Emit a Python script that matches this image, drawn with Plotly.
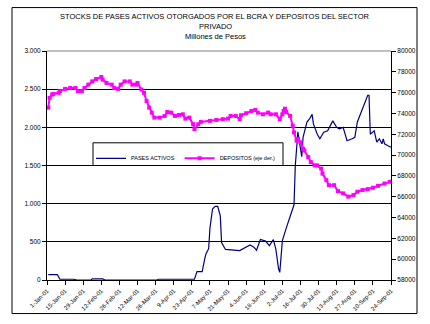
import plotly.graph_objects as go

# ---------------- data ----------------
pases_fechas = [
    "2001-01-02", "2001-01-09", "2001-01-11", "2001-01-22", "2001-01-24", "2001-02-04",
    "2001-02-05", "2001-02-13", "2001-02-15", "2001-03-27", "2001-03-28", "2001-04-25",
    "2001-04-27", "2001-05-01", "2001-05-03", "2001-05-04", "2001-05-06", "2001-05-07",
    "2001-05-09", "2001-05-11", "2001-05-13", "2001-05-15", "2001-05-16", "2001-05-19",
    "2001-05-30", "2001-06-05", "2001-06-07", "2001-06-10", "2001-06-12", "2001-06-15",
    "2001-06-19", "2001-06-22", "2001-06-25", "2001-06-27", "2001-06-29", "2001-06-30",
    "2001-07-02", "2001-07-05", "2001-07-09", "2001-07-11", "2001-07-12", "2001-07-13",
    "2001-07-14", "2001-07-16", "2001-07-17", "2001-07-18", "2001-07-21", "2001-07-23",
    "2001-07-25", "2001-07-26", "2001-07-29", "2001-07-31", "2001-08-03", "2001-08-06",
    "2001-08-10", "2001-08-13", "2001-08-15", "2001-08-18", "2001-08-21", "2001-08-25",
    "2001-08-27", "2001-08-29", "2001-09-01", "2001-09-04", "2001-09-06", "2001-09-07",
    "2001-09-08", "2001-09-11", "2001-09-13", "2001-09-15", "2001-09-17", "2001-09-18",
    "2001-09-19", "2001-09-22", "2001-09-24",
]
pases_valores = [
    70, 70, 10, 10, 0, 0,
    15, 15, 0, 0, 10, 10,
    110, 110, 280, 345, 410, 680,
    930, 965, 965, 840, 490, 400,
    385, 440, 460, 430, 390, 530,
    510, 450, 530, 400, 150, 100,
    515, 680, 900, 985, 1500, 1805,
    1940, 1720, 1615, 1870, 2070, 2110,
    2170, 2045, 1910, 1850, 1935, 1955,
    2085, 2000, 1980, 2000, 1825, 1850,
    1870, 2070, 2200, 2330, 2420, 2420,
    1910, 1955, 1805, 1850, 1785, 1850,
    1785, 1755, 1740,
]

depositos_fechas = [
    "2001-01-02", "2001-01-03", "2001-01-05", "2001-01-06", "2001-01-10", "2001-01-11",
    "2001-01-15", "2001-01-19", "2001-01-23", "2001-01-25", "2001-01-28", "2001-01-30",
    "2001-02-02", "2001-02-05", "2001-02-08", "2001-02-12", "2001-02-13", "2001-02-16",
    "2001-02-20", "2001-02-22", "2001-02-25", "2001-02-27", "2001-03-02", "2001-03-06",
    "2001-03-08", "2001-03-11", "2001-03-12", "2001-03-15", "2001-03-17", "2001-03-19",
    "2001-03-21", "2001-03-23", "2001-03-25", "2001-03-29", "2001-04-02", "2001-04-04",
    "2001-04-07", "2001-04-10", "2001-04-13", "2001-04-16", "2001-04-18", "2001-04-21",
    "2001-04-24", "2001-04-25", "2001-04-28", "2001-04-30", "2001-05-07", "2001-05-12",
    "2001-05-17", "2001-05-21", "2001-05-23", "2001-05-27", "2001-05-30", "2001-05-31",
    "2001-06-04", "2001-06-08", "2001-06-11", "2001-06-13", "2001-06-17", "2001-06-21",
    "2001-06-23", "2001-06-27", "2001-06-30", "2001-07-02", "2001-07-03", "2001-07-04",
    "2001-07-05", "2001-07-08", "2001-07-10", "2001-07-11", "2001-07-13", "2001-07-14",
    "2001-07-16", "2001-07-18", "2001-07-19", "2001-07-22", "2001-07-24", "2001-07-27",
    "2001-07-29", "2001-08-01", "2001-08-02", "2001-08-05", "2001-08-07", "2001-08-11",
    "2001-08-14", "2001-08-18", "2001-08-22", "2001-08-26", "2001-08-29", "2001-09-02",
    "2001-09-06", "2001-09-10", "2001-09-14", "2001-09-19", "2001-09-23",
]
depositos_valores = [
    74560, 75500, 75820, 75880, 75980, 76140,
    76360, 76450, 76450, 76140, 76140, 76450,
    76770, 77080, 77310, 77500, 77250, 76930,
    76770, 76450, 76360, 76770, 77080, 77080,
    76770, 76770, 76930, 76300, 75980, 75190,
    74560, 74080, 73600, 73600, 73760, 74140,
    74080, 73760, 73850, 73920, 73500, 73600,
    72970, 72500, 72970, 73190, 73290, 73380,
    73450, 73510, 73760, 73760, 73450, 73830,
    74020, 74240, 74330, 74080, 73920, 74080,
    73920, 73920, 73450, 73920, 74240, 74460,
    74140, 73760, 72810, 72180, 71390, 71550,
    71230, 70600, 70440, 69810, 69330, 69010,
    69010, 68700, 68220, 67590, 67110, 67110,
    66540, 66320, 66010, 66160, 66480, 66640,
    66730, 66860, 67050, 67270, 67430,
]

x_tick_fechas = [
    "2001-01-01", "2001-01-15", "2001-01-29", "2001-02-12", "2001-02-26", "2001-03-12",
    "2001-03-26", "2001-04-09", "2001-04-23", "2001-05-07", "2001-05-21", "2001-06-04",
    "2001-06-18", "2001-07-02", "2001-07-16", "2001-07-30", "2001-08-13", "2001-08-27",
    "2001-09-10", "2001-09-24",
]
x_tick_textos = [
    "1-Jan-01", "15-Jan-01", "29-Jan-01", "12-Feb-01", "26-Feb-01", "12-Mar-01",
    "26-Mar-01", "9-Apr-01", "23-Apr-01", "7-May-01", "21-May-01", "4-Jun-01",
    "18-Jun-01", "2-Jul-01", "16-Jul-01", "30-Jul-01", "13-Aug-01", "27-Aug-01",
    "10-Sep-01", "24-Sep-01",
]
y_izq_vals = [0, 500, 1000, 1500, 2000, 2500, 3000]
y_izq_textos = ["0", "500", "1.000", "1.500", "2.000", "2.500", "3.000"]
y_der_vals = [58000, 60000, 62000, 64000, 66000, 68000, 70000, 72000, 74000, 76000, 78000, 80000]
y_der_textos = [str(v) for v in y_der_vals]

titulo_1 = "STOCKS DE PASES ACTIVOS OTORGADOS POR EL BCRA Y DEPOSITOS DEL SECTOR"
titulo_2 = "PRIVADO"
subtitulo = "Millones de Pesos"

# ---------------- figure ----------------
FONT = "Liberation Sans, Arial, sans-serif"
W, H = 430, 324
L, R, T, B = 47, 39, 51, 41
PW, PH = W - L - R, H - T - B


def px_x(p):
    return (p - L) / PW


def px_y(p):
    return (H - B - p) / PH


fig = go.Figure()
fig.add_trace(go.Scatter(
    x=pases_fechas, y=pases_valores, name="PASES ACTIVOS", mode="lines",
    line=dict(color="#000080", width=1.2), yaxis="y",
))
fig.add_trace(go.Scatter(
    x=depositos_fechas, y=depositos_valores, name="DEPOSITOS (eje der.)",
    mode="lines+markers", line=dict(color="#FF00FF", width=2),
    marker=dict(symbol="square", size=4, color="#FF00FF"), yaxis="y2",
))

fig.update_layout(
    width=W, height=H,
    margin=dict(l=L, r=R, t=T, b=B, pad=0),
    paper_bgcolor="white", plot_bgcolor="white",
    font=dict(family=FONT, size=7, color="black"),
    showlegend=True,
    legend=dict(
        orientation="h", x=px_x(91), y=px_y(145), xanchor="left", yanchor="top",
        bgcolor="rgba(0,0,0,0)", borderwidth=0, font=dict(size=5.5, family=FONT),
        itemwidth=30, tracegroupgap=0,
    ),
    xaxis=dict(
        type="date", range=["2001-01-01", "2001-09-24"],
        tickvals=x_tick_fechas, ticktext=x_tick_textos, tickangle=-45,
        tickfont=dict(size=6), ticks="outside", ticklen=4, tickcolor="black",
        showline=True, linecolor="black", linewidth=1, showgrid=False, zeroline=False,
    ),
    yaxis=dict(
        range=[0, 3000], tickvals=y_izq_vals, ticktext=y_izq_textos,
        tickfont=dict(size=6.5), ticks="outside", ticklen=4, tickcolor="black",
        showline=True, linecolor="black", linewidth=1,
        showgrid=True, gridcolor="black", gridwidth=1, zeroline=False,
    ),
    yaxis2=dict(
        range=[58000, 80000], tickvals=y_der_vals, ticktext=y_der_textos,
        overlaying="y", side="right",
        tickfont=dict(size=6.5), ticks="outside", ticklen=4, tickcolor="black",
        showline=True, linecolor="black", linewidth=1, showgrid=False, zeroline=False,
    ),
    shapes=[
        # gray plot-area top border
        dict(type="line", xref="paper", yref="paper", x0=0, x1=1, y0=1, y1=1,
             line=dict(color="#808080", width=1), layer="above"),
        # legend box
        dict(type="rect", xref="paper", yref="paper",
             x0=px_x(93), x1=px_x(283), y0=px_y(167), y1=px_y(144),
             fillcolor="white", line=dict(color="black", width=1), layer="above"),
        # outer chart frame
        dict(type="rect", xref="paper", yref="paper",
             x0=px_x(12), x1=px_x(417), y0=px_y(317), y1=px_y(7),
             fillcolor="rgba(0,0,0,0)", line=dict(color="black", width=1), layer="above"),
    ],
    annotations=[
        dict(text=titulo_1, xref="paper", yref="paper", x=px_x(215), y=px_y(16.5),
             xanchor="center", yanchor="middle", showarrow=False, font=dict(size=7.5)),
        dict(text=titulo_2, xref="paper", yref="paper", x=px_x(215), y=px_y(26.3),
             xanchor="center", yanchor="middle", showarrow=False, font=dict(size=7.5)),
        dict(text=subtitulo, xref="paper", yref="paper", x=px_x(215), y=px_y(36.3),
             xanchor="center", yanchor="middle", showarrow=False, font=dict(size=7.5)),
    ],
)

fig.write_html("out.html")
